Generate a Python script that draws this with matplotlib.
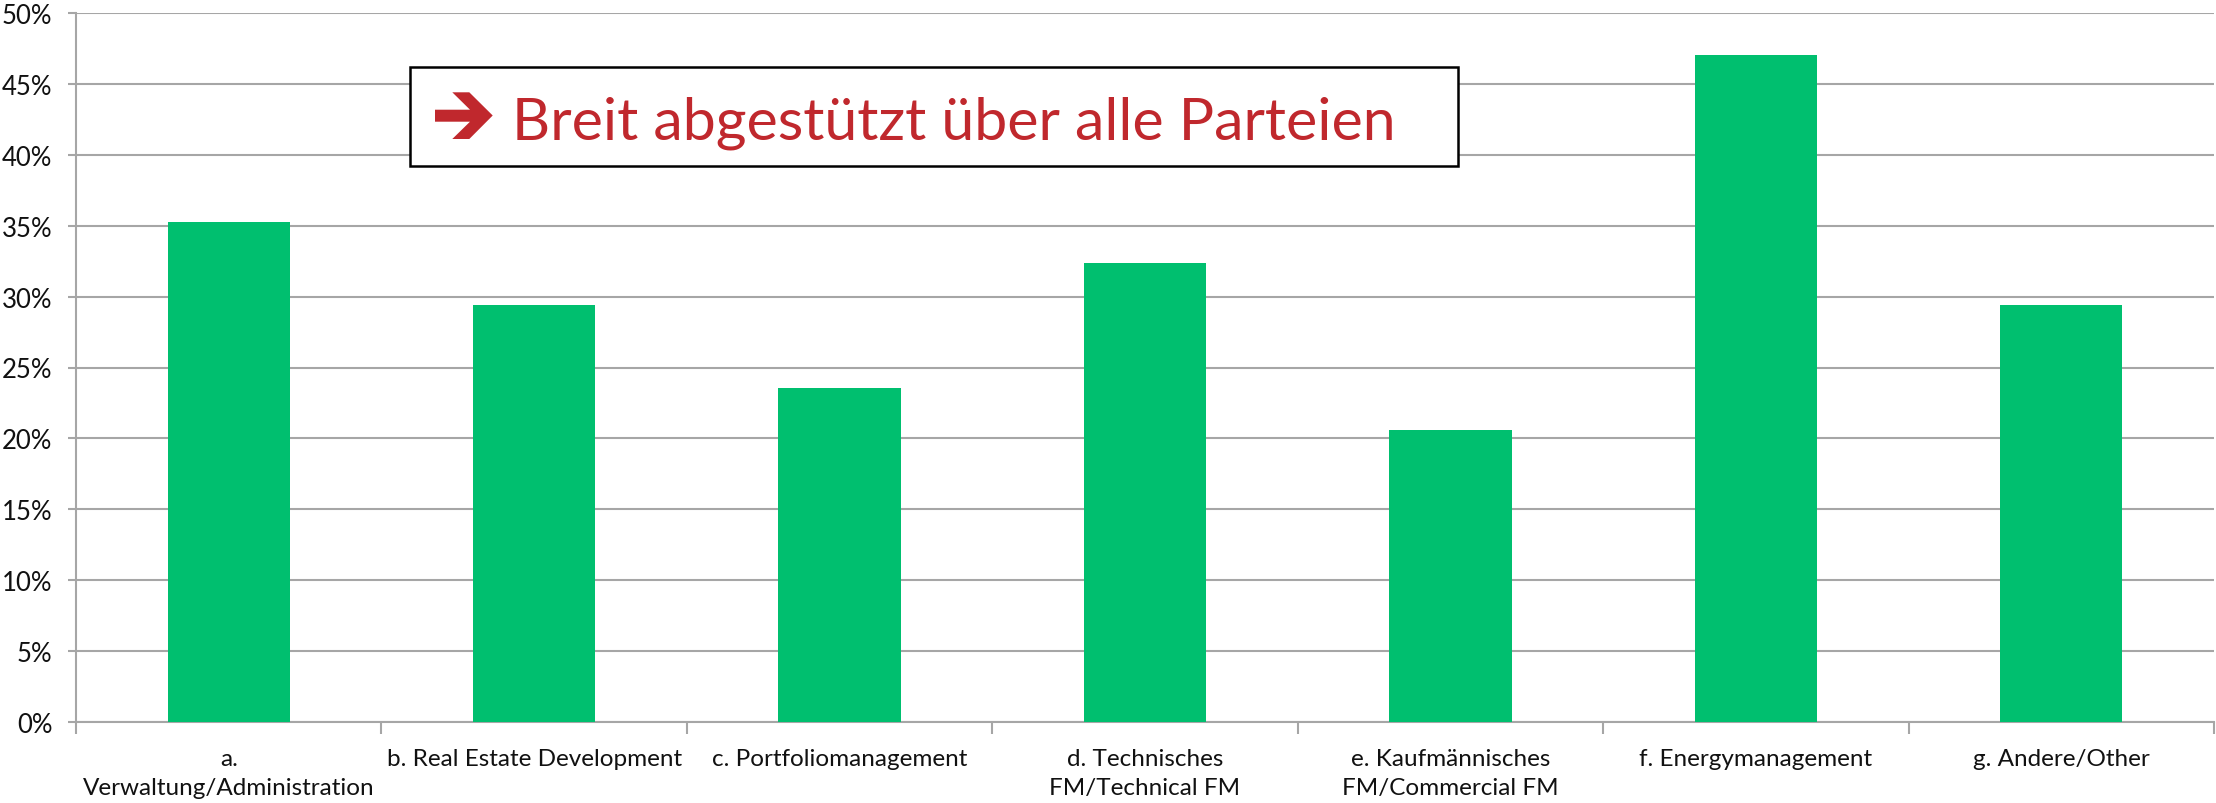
import matplotlib
matplotlib.use("Agg")
import matplotlib.pyplot as plt
from matplotlib.patches import Rectangle, Polygon
import numpy as np

categories = [
    "a.\nVerwaltung/Administration",
    "b. Real Estate Development",
    "c. Portfoliomanagement",
    "d. Technisches\nFM/Technical FM",
    "e. Kaufmännisches\nFM/Commercial FM",
    "f. Energymanagement",
    "g. Andere/Other",
]
values = [35.29, 29.41, 23.53, 32.35, 20.59, 47.06, 29.41]
yticks = [0, 5, 10, 15, 20, 25, 30, 35, 40, 45, 50]
ytick_labels = [f"{v}%" for v in yticks]
title_text = "Breit abgestützt über alle Parteien"

W, H = 2216, 804
fig = plt.figure(figsize=(W / 100, H / 100), dpi=100)
ax = fig.add_axes([76 / W, 1 - 723 / H, (2214 - 76) / W, (723 - 14) / H])

FONT = ["Lato", "DejaVu Sans"]
GREEN = "#00BF6F"
GRID = "#A6A6A6"
RED = "#C0282D"
TXT = "#111111"

x = np.arange(len(categories))
ax.bar(x, values, width=0.4, color=GREEN, zorder=3)
ax.set_xlim(-0.5, len(categories) - 0.5)
ax.set_ylim(0, 50)
ax.set_yticks(yticks)
ax.set_yticklabels(ytick_labels, fontfamily=FONT, fontsize=18.5, color=TXT)
ax.yaxis.grid(True, color=GRID, linewidth=1.5, zorder=0)
ax.tick_params(axis="y", length=6, width=1.5, color=GRID, pad=11)

ax.set_xticks(x)
ax.set_xticklabels(categories, fontfamily=FONT, fontsize=17.5, color=TXT,
                   linespacing=1.45, va="top")
ax.tick_params(axis="x", which="major", length=0, pad=19)
ax.set_xticks(np.arange(-0.5, len(categories), 1.0), minor=True)
ax.tick_params(axis="x", which="minor", length=8.5, width=1.5, color=GRID)

for s in ["top", "right"]:
    ax.spines[s].set_visible(False)
for s in ["left", "bottom"]:
    ax.spines[s].set_color(GRID)
    ax.spines[s].set_linewidth(1.5)


def fp(px, py):
    return (px / W, 1 - py / H)


# annotation box
bx0, bx1, by0, by1 = 410, 1458, 68, 167
fig.patches.append(Rectangle(fp(bx0, by1), (bx1 - bx0) / W, (by1 - by0) / H,
                             transform=fig.transFigure, facecolor="white",
                             edgecolor="black", linewidth=1.8, zorder=10))
arrow_px = [(435, 110.7), (470, 110.7), (452.3, 93.3), (469.3, 93.3),
            (492.7, 116.5), (469.3, 140), (452.3, 140), (470, 122.7), (435, 122.7)]
fig.patches.append(Polygon([fp(a, b) for a, b in arrow_px], closed=True,
                           transform=fig.transFigure, facecolor=RED,
                           edgecolor="none", zorder=11))
fig.text(512 / W, 1 - 139 / H, title_text, fontfamily=FONT, fontsize=42.6,
         color=RED, va="baseline", ha="left", zorder=11)

fig.savefig("out.png", dpi=100, facecolor="white")
